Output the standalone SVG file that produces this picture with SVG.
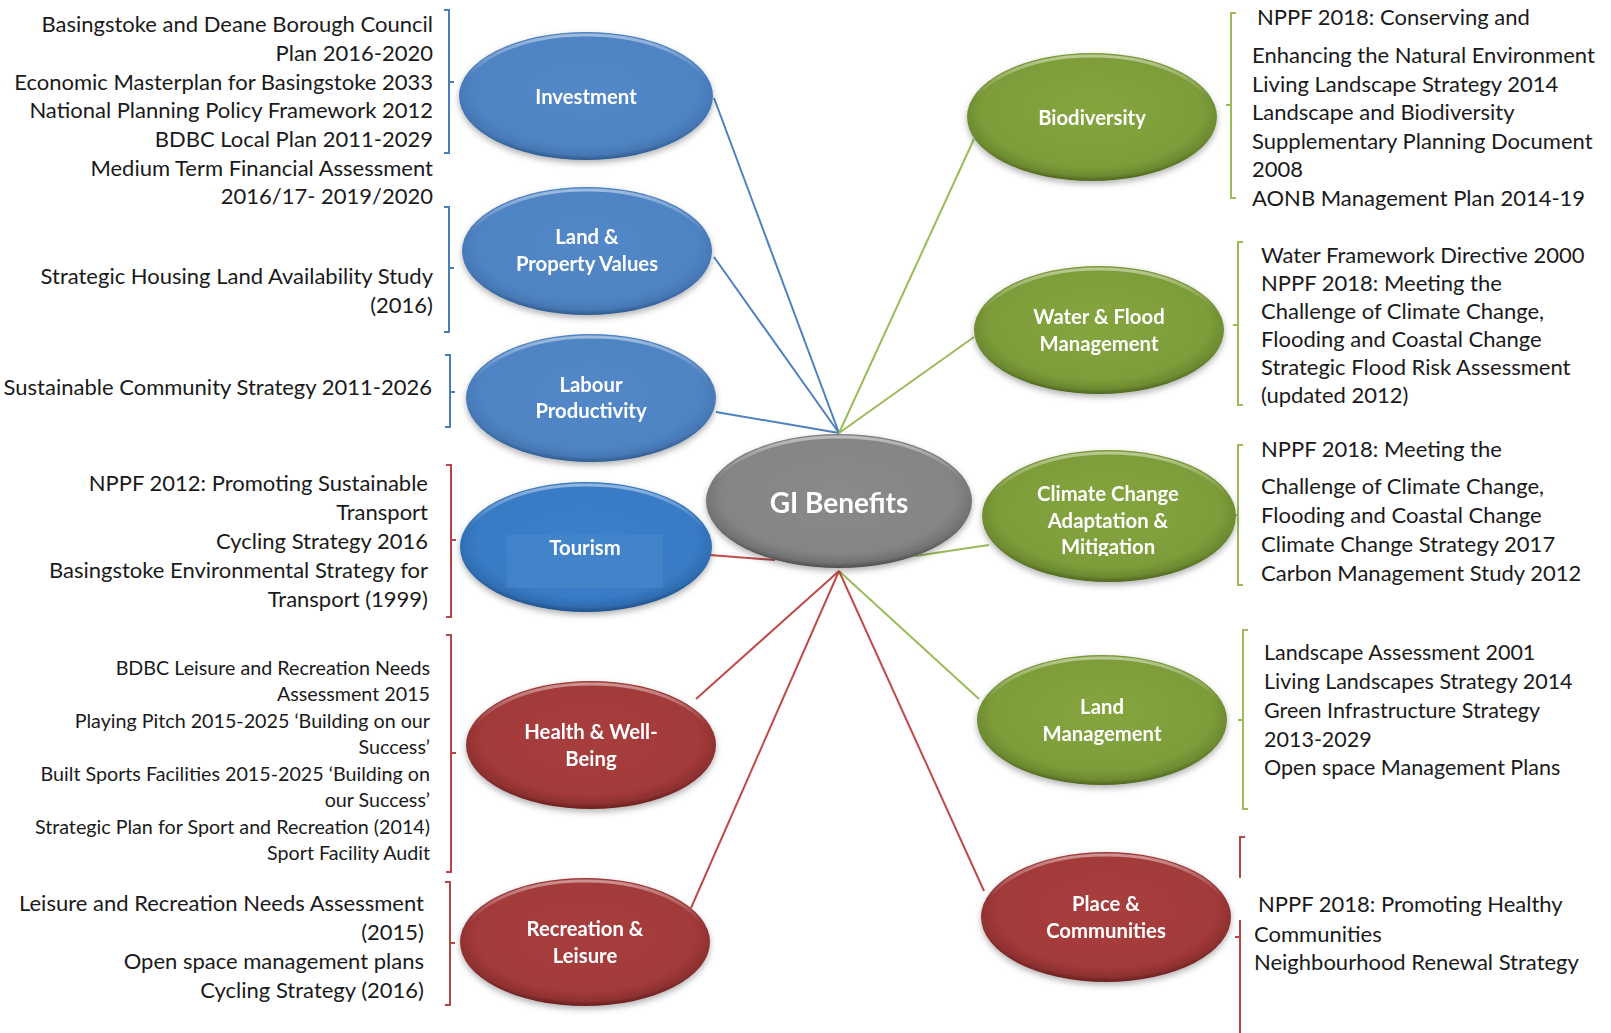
<svg xmlns="http://www.w3.org/2000/svg" width="1611" height="1033" viewBox="0 0 1611 1033">
<style>
.t{font-family:Lato,"Liberation Sans",sans-serif;font-size:22px;fill:#1a1a1a}
.s{font-size:19.7px}
.m{font-size:21.5px}
.r{text-anchor:end}
.lb{font-family:Lato,"Liberation Sans",sans-serif;font-size:20.3px;font-weight:bold;fill:#fff;text-anchor:middle}
.bb{fill:none;stroke:#4a7ebb;stroke-width:2}
.gb{fill:none;stroke:#9bbb59;stroke-width:2}
.rb{fill:none;stroke:#b54646;stroke-width:2}
.hl{fill:none;stroke:url(#hi);stroke-width:3}
</style>
<defs>
<radialGradient id="gBlue" cx="50%" cy="45%" r="55%"><stop offset="0" stop-color="#5288c8"/><stop offset="0.8" stop-color="#4f84c4"/><stop offset="0.93" stop-color="#4677b4"/><stop offset="1" stop-color="#2f5a8e"/></radialGradient>
<radialGradient id="gTour" cx="50%" cy="45%" r="55%"><stop offset="0" stop-color="#3b7fca"/><stop offset="0.8" stop-color="#387bc6"/><stop offset="0.93" stop-color="#306cb0"/><stop offset="1" stop-color="#1f4f88"/></radialGradient>
<radialGradient id="gGreen" cx="50%" cy="45%" r="55%"><stop offset="0" stop-color="#84a53e"/><stop offset="0.8" stop-color="#7d9d3a"/><stop offset="0.93" stop-color="#6c8a30"/><stop offset="1" stop-color="#4e6620"/></radialGradient>
<radialGradient id="gRed" cx="50%" cy="45%" r="55%"><stop offset="0" stop-color="#a83d3d"/><stop offset="0.8" stop-color="#a33a3a"/><stop offset="0.93" stop-color="#8e3030"/><stop offset="1" stop-color="#672020"/></radialGradient>
<radialGradient id="gGray" cx="50%" cy="45%" r="55%"><stop offset="0" stop-color="#8a8a8a"/><stop offset="0.8" stop-color="#858585"/><stop offset="0.93" stop-color="#727272"/><stop offset="1" stop-color="#4e4e4e"/></radialGradient>
<linearGradient id="hi" x1="0" y1="0" x2="0" y2="1"><stop offset="0" stop-color="#fff" stop-opacity="0.45"/><stop offset="0.35" stop-color="#fff" stop-opacity="0"/></linearGradient>
<filter id="sh" x="-10%" y="-10%" width="120%" height="130%"><feDropShadow dx="0" dy="3" stdDeviation="3" flood-color="#000" flood-opacity="0.3"/></filter>
<clipPath id="clipCl"><rect x="982" y="440" width="260" height="116"/></clipPath>
</defs>
<rect width="1611" height="1033" fill="#fff"/>

<g id="connectors" stroke-width="2" fill="none">
<line x1="714" y1="98" x2="839" y2="433" stroke="#4f81bd"/>
<line x1="714" y1="257" x2="839" y2="433" stroke="#4f81bd"/>
<line x1="716" y1="412" x2="839" y2="433" stroke="#4f81bd"/>
<line x1="710" y1="555" x2="775" y2="560" stroke="#be4b48"/>
<line x1="696" y1="699" x2="839" y2="571" stroke="#be4b48"/>
<line x1="691" y1="908" x2="839" y2="571" stroke="#be4b48"/>
<line x1="974" y1="139" x2="839" y2="433" stroke="#9bbb59"/>
<line x1="974" y1="337" x2="839" y2="433" stroke="#9bbb59"/>
<line x1="989" y1="545" x2="915" y2="556" stroke="#9bbb59"/>
<line x1="979" y1="699" x2="839" y2="571" stroke="#9bbb59"/>
<line x1="984" y1="891" x2="839" y2="571" stroke="#be4b48"/>
</g>

<g id="brackets">
<path class="bb" d="M444 10H449V153H444M449 82H454"/>
<path class="bb" d="M444 207H449V332H444M449 268H454"/>
<path class="bb" d="M445 355H450V427H445M450 392H455"/>
<path class="rb" d="M446 465H451V617H446M451 540H456"/>
<path class="rb" d="M446 635H451V872H446M451 753H456"/>
<path class="rb" d="M445 882H450V1005H445M450 943H455"/>
<path class="gb" d="M1236 13H1231V198H1236M1231 105H1226"/>
<path class="gb" d="M1243 242H1238V405H1243M1238 325H1233"/>
<path class="gb" d="M1243 445H1238V585H1243M1238 515H1233"/>
<path class="gb" d="M1248 630H1243V809H1248M1243 720H1238"/>
<path class="rb" d="M1245 837H1240V1040M1240 937H1235"/>
<rect x="1237" y="878" width="374" height="42" fill="#fff"/>
</g>

<g id="texts">
<g class="t r">
<text x="433" y="32">Basingstoke and Deane Borough Council</text>
<text x="433" y="61">Plan 2016-2020</text>
<text x="433" y="90">Economic Masterplan for Basingstoke 2033</text>
<text x="433" y="118">National Planning Policy Framework 2012</text>
<text x="433" y="147">BDBC Local Plan 2011-2029</text>
<text x="433" y="176">Medium Term Financial Assessment</text>
<text x="433" y="204">2016/17- 2019/2020</text>
<text x="433" y="284">Strategic Housing Land Availability Study</text>
<text x="433" y="313">(2016)</text>
<text x="432" y="395">Sustainable Community Strategy 2011-2026</text>
<text x="428" y="491">NPPF 2012: Promoting Sustainable</text>
<text x="428" y="520">Transport</text>
<text x="428" y="549">Cycling Strategy 2016</text>
<text x="428" y="578">Basingstoke Environmental Strategy for</text>
<text x="428" y="607">Transport (1999)</text>
<g class="s">
<text x="430" y="675">BDBC Leisure and Recreation Needs</text>
<text x="430" y="701">Assessment 2015</text>
<text x="430" y="728">Playing Pitch 2015-2025 ‘Building on our</text>
<text x="430" y="754">Success’</text>
<text x="430" y="781">Built Sports Facilities 2015-2025 ‘Building on</text>
<text x="430" y="807">our Success’</text>
<text x="430" y="834">Strategic Plan for Sport and Recreation (2014)</text>
<text x="430" y="860">Sport Facility Audit</text>
</g>
<text x="424" y="911">Leisure and Recreation Needs Assessment</text>
<text x="424" y="940">(2015)</text>
<text x="424" y="969">Open space management plans</text>
<text x="424" y="998">Cycling Strategy (2016)</text>
</g>
<g class="t">
<text x="1257" y="25">NPPF 2018: Conserving and</text>
<text x="1252" y="63">Enhancing the Natural Environment</text>
<text x="1252" y="92">Living Landscape Strategy 2014</text>
<text x="1252" y="120">Landscape and Biodiversity</text>
<text x="1252" y="149">Supplementary Planning Document</text>
<text x="1252" y="177">2008</text>
<text x="1252" y="206">AONB Management Plan 2014-19</text>
<text x="1261" y="263">Water Framework Directive 2000</text>
<text x="1261" y="291">NPPF 2018: Meeting the</text>
<text x="1261" y="319">Challenge of Climate Change,</text>
<text x="1261" y="347">Flooding and Coastal Change</text>
<text x="1261" y="375">Strategic Flood Risk Assessment</text>
<text x="1261" y="403">(updated 2012)</text>
<text x="1261" y="457">NPPF 2018: Meeting the</text>
<text x="1261" y="494">Challenge of Climate Change,</text>
<text x="1261" y="523">Flooding and Coastal Change</text>
<text x="1261" y="552">Climate Change Strategy 2017</text>
<text x="1261" y="581">Carbon Management Study 2012</text>
<g class="m">
<text x="1264" y="660">Landscape Assessment 2001</text>
<text x="1264" y="689">Living Landscapes Strategy 2014</text>
<text x="1264" y="718">Green Infrastructure Strategy</text>
<text x="1264" y="747">2013-2029</text>
<text x="1264" y="775">Open space Management Plans</text>
</g>
<text x="1258" y="912">NPPF 2018: Promoting Healthy</text>
<text x="1254" y="942">Communities</text>
<text x="1254" y="970">Neighbourhood Renewal Strategy</text>
</g>
</g>

<g id="node-investment" filter="url(#sh)">
<ellipse cx="586" cy="96" rx="127" ry="64" fill="url(#gBlue)"/>
<ellipse class="hl" cx="586" cy="96" rx="124" ry="61"/>
<text class="lb" x="586" y="104">Investment</text>
</g>
<g id="node-land-property" filter="url(#sh)">
<ellipse cx="587" cy="251" rx="125" ry="64" fill="url(#gBlue)"/>
<ellipse class="hl" cx="587" cy="251" rx="122" ry="61"/>
<text class="lb" x="587" y="244">Land &amp;</text>
<text class="lb" x="587" y="271">Property Values</text>
</g>
<g id="node-labour" filter="url(#sh)">
<ellipse cx="591" cy="398" rx="125" ry="64" fill="url(#gBlue)"/>
<ellipse class="hl" cx="591" cy="398" rx="122" ry="61"/>
<text class="lb" x="591" y="392">Labour</text>
<text class="lb" x="591" y="418">Productivity</text>
</g>
<g id="node-tourism" filter="url(#sh)">
<ellipse cx="586" cy="547" rx="126" ry="65" fill="url(#gTour)"/>
<ellipse class="hl" cx="586" cy="547" rx="123" ry="62"/>
<rect x="507" y="535" width="156" height="53" fill="#4a88cc" opacity="0.6"/>
<text class="lb" x="585" y="555">Tourism</text>
</g>
<g id="node-health" filter="url(#sh)">
<ellipse cx="591" cy="745" rx="125" ry="64" fill="url(#gRed)"/>
<ellipse class="hl" cx="591" cy="745" rx="122" ry="61"/>
<text class="lb" x="591" y="739">Health &amp; Well-</text>
<text class="lb" x="591" y="766">Being</text>
</g>
<g id="node-recreation" filter="url(#sh)">
<ellipse cx="585" cy="942" rx="125" ry="64" fill="url(#gRed)"/>
<ellipse class="hl" cx="585" cy="942" rx="122" ry="61"/>
<text class="lb" x="585" y="936">Recreation &amp;</text>
<text class="lb" x="585" y="963">Leisure</text>
</g>
<g id="node-gi" filter="url(#sh)">
<ellipse cx="839" cy="501" rx="133" ry="67" fill="url(#gGray)"/>
<ellipse class="hl" cx="839" cy="501" rx="130" ry="64"/>
<text class="lb" x="839" y="513" style="font-size:28px">GI Benefits</text>
</g>
<g id="node-biodiversity" filter="url(#sh)">
<ellipse cx="1092" cy="117" rx="125" ry="64" fill="url(#gGreen)"/>
<ellipse class="hl" cx="1092" cy="117" rx="122" ry="61"/>
<text class="lb" x="1092" y="125">Biodiversity</text>
</g>
<g id="node-water" filter="url(#sh)">
<ellipse cx="1099" cy="330" rx="125" ry="64" fill="url(#gGreen)"/>
<ellipse class="hl" cx="1099" cy="330" rx="122" ry="61"/>
<text class="lb" x="1099" y="324">Water &amp; Flood</text>
<text class="lb" x="1099" y="351">Management</text>
</g>
<g id="node-climate" filter="url(#sh)">
<ellipse cx="1109" cy="516" rx="127" ry="66" fill="url(#gGreen)"/>
<ellipse class="hl" cx="1109" cy="516" rx="124" ry="63"/>
<g clip-path="url(#clipCl)">
<text class="lb" x="1108" y="501">Climate Change</text>
<text class="lb" x="1108" y="528">Adaptation &amp;</text>
<text class="lb" x="1108" y="554">Mitigation</text>
</g>
</g>
<g id="node-land-management" filter="url(#sh)">
<ellipse cx="1102" cy="720" rx="125" ry="65" fill="url(#gGreen)"/>
<ellipse class="hl" cx="1102" cy="720" rx="122" ry="62"/>
<text class="lb" x="1102" y="714">Land</text>
<text class="lb" x="1102" y="741">Management</text>
</g>
<g id="node-place" filter="url(#sh)">
<ellipse cx="1106" cy="917" rx="125" ry="65" fill="url(#gRed)"/>
<ellipse class="hl" cx="1106" cy="917" rx="122" ry="62"/>
<text class="lb" x="1106" y="911">Place &amp;</text>
<text class="lb" x="1106" y="938">Communities</text>
</g>
</svg>
